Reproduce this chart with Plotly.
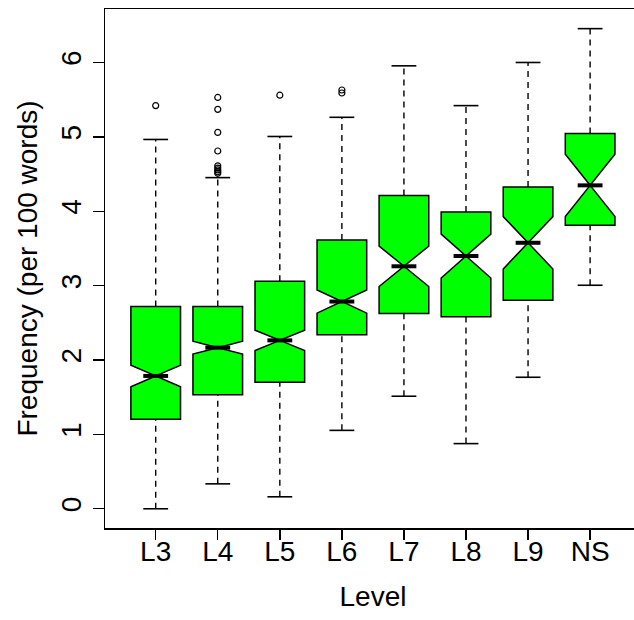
import plotly.graph_objects as go

# ---- data ----
levels = ["L3", "L4", "L5", "L6", "L7", "L8", "L9", "NS"]
lower_whisker = [0.000, 0.335, 0.161, 1.054, 1.513, 0.876, 1.768, 3.005]
q1 = [1.205, 1.532, 1.701, 2.340, 2.625, 2.580, 2.804, 3.813]
median = [1.786, 2.166, 2.264, 2.786, 3.260, 3.398, 3.576, 4.348]
q3 = [2.719, 2.719, 3.059, 3.612, 4.210, 3.990, 4.326, 5.045]
upper_whisker = [4.965, 4.452, 5.005, 5.263, 5.955, 5.420, 6.000, 6.455]
notch_span = [0.145, 0.087, 0.136, 0.156, 0.272, 0.295, 0.352, 0.418]
outliers = {
    "L3": [5.42],
    "L4": [5.53, 5.37, 5.06, 4.81, 4.61, 4.58, 4.555, 4.53, 4.51],
    "L5": [5.56],
    "L6": [5.63, 5.59],
}
y_ticks = [0, 1, 2, 3, 4, 5, 6]

FONT = "Liberation Sans, Arial, sans-serif"
positions = list(range(1, len(levels) + 1))
box_w = 0.8
cap_half = box_w / 4      # staple = half box width
med_half = box_w / 4      # median segment spans the notch (half box width)

fig = go.Figure()

fig.add_trace(go.Box(
    x=positions, q1=q1, median=median, q3=q3,
    lowerfence=q1, upperfence=q3,
    notched=True, notchspan=notch_span, notchwidth=0.5,
    width=box_w, whiskerwidth=0,
    fillcolor="#00ff00", line=dict(color="black", width=1.5),
    boxpoints=False, hoverinfo="skip", showlegend=False,
))

# dashed whiskers
wx, wy = [], []
for p, lo, a, b, hi in zip(positions, lower_whisker, q1, q3, upper_whisker):
    wx += [p, p, None, p, p, None]
    wy += [lo, a, None, b, hi, None]
fig.add_trace(go.Scatter(x=wx, y=wy, mode="lines", hoverinfo="skip", showlegend=False,
                         line=dict(color="black", width=1.4, dash="6px,5px")))

# whisker caps
cx, cy = [], []
for p, lo, hi in zip(positions, lower_whisker, upper_whisker):
    cx += [p - cap_half, p + cap_half, None, p - cap_half, p + cap_half, None]
    cy += [lo, lo, None, hi, hi, None]
fig.add_trace(go.Scatter(x=cx, y=cy, mode="lines", hoverinfo="skip", showlegend=False,
                         line=dict(color="black", width=1.6)))

# thick medians
mx, my = [], []
for p, m in zip(positions, median):
    mx += [p - med_half, p + med_half, None]
    my += [m, m, None]
fig.add_trace(go.Scatter(x=mx, y=my, mode="lines", hoverinfo="skip", showlegend=False,
                         line=dict(color="black", width=4)))

# outliers
ox, oy = [], []
for p, lev in zip(positions, levels):
    for v in outliers.get(lev, []):
        ox.append(p)
        oy.append(v)
fig.add_trace(go.Scatter(x=ox, y=oy, mode="markers", hoverinfo="skip", showlegend=False,
                         marker=dict(symbol="circle-open", size=6, color="black",
                                     line=dict(width=1.2, color="black"))))

fig.update_layout(
    width=700, height=620,
    margin=dict(l=105, r=59, t=7, b=92),
    paper_bgcolor="white", plot_bgcolor="white",
    font=dict(family=FONT, size=28, color="black"),
    showlegend=False,
)
fig.update_xaxes(
    range=[0.183, 8.82], tickmode="array", tickvals=positions, ticktext=levels,
    showgrid=False, zeroline=False,
    showline=True, mirror=True, linecolor="black", linewidth=1.5,
    ticks="outside", ticklen=10, tickwidth=1.4, tickcolor="black",
    ticklabelstandoff=-12,
    tickfont=dict(size=28, family=FONT, color="black"),
    title=dict(text="Level", font=dict(size=28, family=FONT, color="black"), standoff=20),
)
fig.update_yaxes(
    range=[-0.2585, 6.719], tickmode="array", tickvals=y_ticks,
    showgrid=False, zeroline=False,
    showline=True, mirror=False, linecolor="black", linewidth=1.5,
    ticks="outside", ticklen=11, tickwidth=1.4, tickcolor="black", tickangle=-90,
    tickfont=dict(size=28, family=FONT, color="black"),
    title=dict(text="Frequency (per 100 words)", font=dict(size=28, family=FONT, color="black"), standoff=10),
)

fig.write_html(
    "out.html",
    config={"displayModeBar": False, "staticPlot": True},
    post_script=(
        "document.body.style.margin='0px';"
        "document.body.style.overflow='hidden';"
        "document.documentElement.style.overflow='hidden';"
    ),
)
